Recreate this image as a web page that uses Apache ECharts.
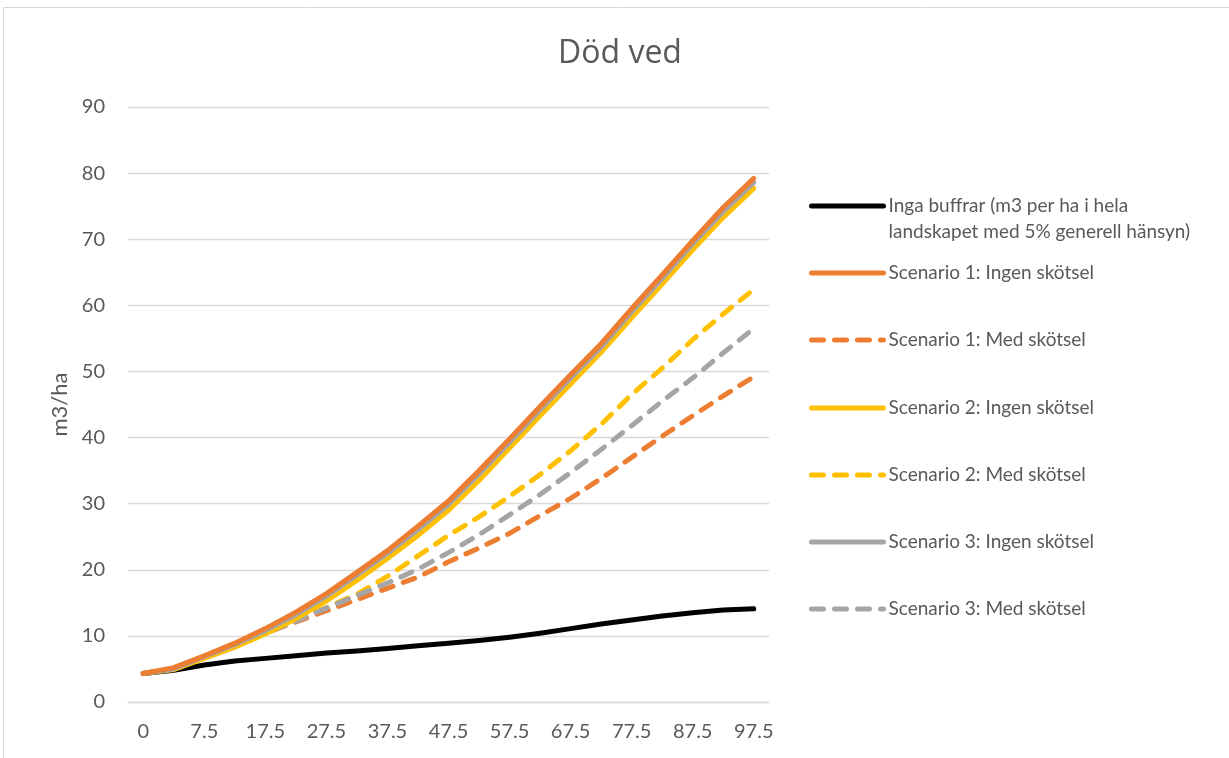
<!DOCTYPE html>
<html>
<head>
<meta charset="utf-8">
<script src="https://cdn.jsdelivr.net/npm/echarts@6/dist/echarts.min.js"></script>
<style>
  html, body { margin: 0; padding: 0; background: #fff; }
  #chart { width: 1229px; height: 758px; }
</style>
</head>
<body>
<div id="chart"></div>
<script>
// x categories (years)
const years = ['0', '2.5', '7.5', '12.5', '17.5', '22.5', '27.5', '32.5', '37.5', '42.5', '47.5',
  '52.5', '57.5', '62.5', '67.5', '72.5', '77.5', '82.5', '87.5', '92.5', '97.5']

const ingaBuffrar = [4.3, 4.8, 5.6, 6.2, 6.6, 7.0, 7.4, 7.7, 8.1, 8.5, 8.9, 9.3, 9.8, 10.4, 11.1, 11.8, 12.4, 13.0, 13.5, 13.9, 14.1]
const s1Ingen = [4.3, 5.2, 7.0, 8.9, 11.1, 13.6, 16.4, 19.6, 22.9, 26.6, 30.4, 35.0, 39.8, 44.7, 49.5, 54.2, 59.5, 64.6, 69.8, 74.8, 79.2]
const s1Med = [4.3, 5.1, 6.9, 8.7, 10.4, 12.1, 13.8, 15.5, 17.2, 18.9, 21.2, 23.3, 25.5, 28.2, 30.8, 33.8, 37.0, 40.2, 43.3, 46.3, 49.2]
const s2Ingen = [4.3, 4.9, 6.6, 8.3, 10.3, 12.6, 15.3, 18.4, 21.7, 25.2, 29.0, 33.5, 38.4, 43.3, 48.1, 52.9, 58.1, 63.2, 68.4, 73.3, 77.7]
const s2Med = [4.3, 5.0, 6.8, 8.6, 10.5, 12.4, 14.3, 16.3, 19.0, 22.1, 25.2, 28.0, 31.1, 34.4, 38.0, 42.0, 46.5, 50.5, 54.8, 58.7, 62.4]
const s3Ingen = [4.3, 5.0, 6.9, 8.7, 10.8, 13.2, 16.0, 19.2, 22.5, 26.1, 29.9, 34.5, 39.3, 44.2, 49.0, 53.7, 59.0, 64.1, 69.3, 74.2, 78.6]
const s3Med = [4.3, 5.0, 6.8, 8.6, 10.4, 12.2, 14.2, 16.1, 18.0, 20.1, 22.6, 25.3, 28.3, 31.4, 34.7, 38.2, 41.8, 45.5, 49.0, 52.8, 56.5]

const seriesNames = [
  'Inga buffrar (m3 per ha i hela\nlandskapet med 5% generell hänsyn)',
  'Scenario 1: Ingen skötsel',
  'Scenario 1: Med skötsel',
  'Scenario 2: Ingen skötsel',
  'Scenario 2: Med skötsel',
  'Scenario 3: Ingen skötsel',
  'Scenario 3: Med skötsel'
]
const seriesData = [ingaBuffrar, s1Ingen, s1Med, s2Ingen, s2Med, s3Ingen, s3Med]
const seriesColors = ['#000000', '#ED7D31', '#ED7D31', '#FFC000', '#FFC000', '#A5A5A5', '#A5A5A5']
const dashed = [false, false, true, false, true, false, true]

const font = 'Lato, Open Sans, sans-serif'
const textColor = '#595959'

// dashed lines first, solids on top
const drawOrder = [2, 4, 6, 0, 3, 5, 1]

const chart = echarts.init(document.getElementById('chart'))

// icon centre y for each legend row
const legendCentres = [206, 273, 340, 408, 475, 542, 609]
const legends = seriesNames.map((name, i) => ({
  data: [name],
  left: 809,
  top: i === 0 ? legendCentres[i] - 39 : legendCentres[i] - 13,
  padding: 0,
  itemWidth: 72,
  itemHeight: 20,
  itemGap: 0,
  selectedMode: false,
  // blank first line keeps the icon level with the first text line
  formatter: n => (n.indexOf('\n') >= 0 ? '\n' + n : n),
  itemStyle: { opacity: 0 },
  lineStyle: { width: 5, cap: 'round' },
  textStyle: {
    color: textColor,
    fontSize: 19,
    fontFamily: font,
    lineHeight: 26
  }
}))

const option = {
  backgroundColor: '#ffffff',
  animation: false,
  title: {
    text: 'Död ved',
    left: 615,
    top: 33,
    textAlign: 'center',
    textStyle: { color: textColor, fontSize: 32, fontWeight: 'normal', fontFamily: 'Open Sans, sans-serif' }
  },
  graphic: [{
    type: 'rect',
    shape: { x: 3.5, y: 7.5, width: 1400, height: 900 },
    style: { fill: 'none', stroke: '#d9d9d9', lineWidth: 1 },
    silent: true
  }],
  legend: legends,
  grid: { left: 128, right: 460, top: 107, bottom: 56 },
  xAxis: {
    type: 'category',
    data: years,
    boundaryGap: true,
    axisLine: { lineStyle: { color: '#d9d9d9', width: 1.3 } },
    axisTick: { show: false },
    axisLabel: { interval: 1, color: textColor, fontSize: 20, fontFamily: font, margin: 20 }
  },
  yAxis: {
    type: 'value',
    min: 0,
    max: 90,
    interval: 10,
    name: 'm3/ha',
    nameLocation: 'middle',
    nameGap: 54,
    nameRotate: 90,
    nameTextStyle: { color: textColor, fontSize: 22, fontFamily: font },
    axisLine: { show: false },
    axisTick: { show: false },
    splitLine: { lineStyle: { color: '#d9d9d9', width: 1.3 } },
    axisLabel: { color: textColor, fontSize: 20, fontFamily: font, margin: 23 }
  },
  series: drawOrder.map(i => ({
    name: seriesNames[i],
    type: 'line',
    data: seriesData[i],
    symbol: 'none',
    z: 2 + drawOrder.indexOf(i),
    color: seriesColors[i],
    lineStyle: {
      color: seriesColors[i],
      width: 5,
      type: dashed[i] ? [12, 11] : 'solid',
      cap: 'round',
      join: 'round'
    }
  }))
}

chart.setOption(option)
</script>
</body>
</html>
